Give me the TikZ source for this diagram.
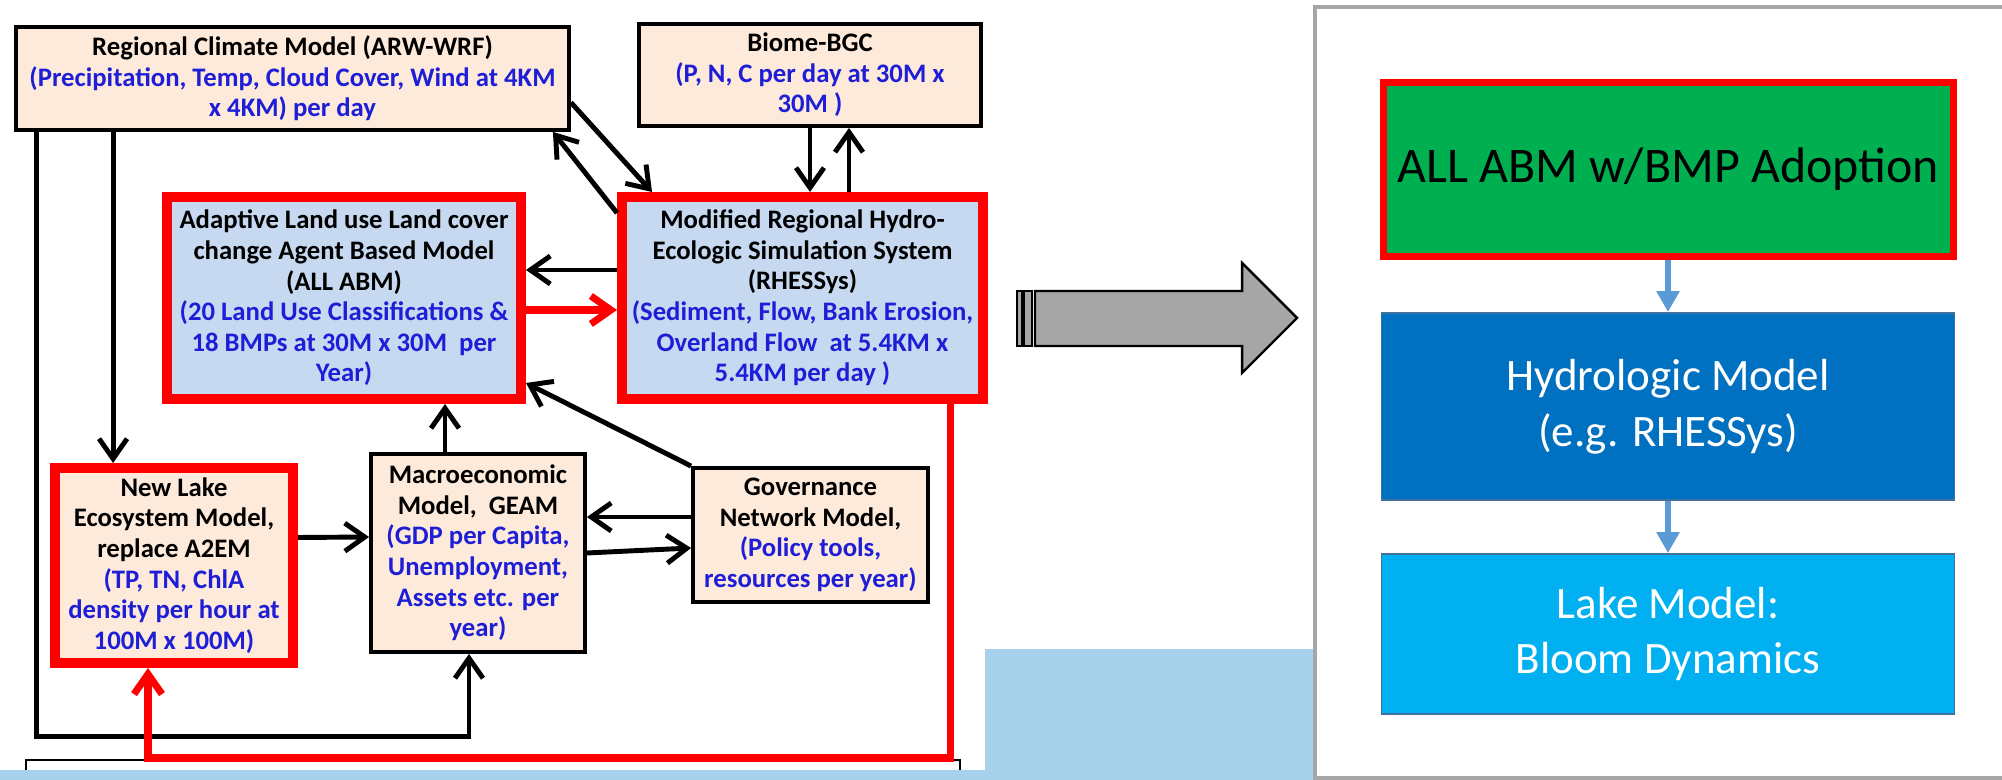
\documentclass[tikz,border=0pt]{standalone}
\usepackage{fontspec}
\setmainfont{Carlito}
\usetikzlibrary{arrows.meta,calc}

\definecolor{peach}{RGB}{253,234,218}
\definecolor{paleblue}{RGB}{198,217,241}
\definecolor{inkblue}{RGB}{30,30,215}
\definecolor{abmgreen}{RGB}{0,176,80}
\definecolor{hydroblue}{RGB}{0,112,192}
\definecolor{lakeblue}{RGB}{0,176,240}
\definecolor{edgeblue}{RGB}{65,113,156}
\definecolor{linkblue}{RGB}{91,155,213}
\definecolor{framegray}{RGB}{166,166,166}
\definecolor{skyband}{RGB}{168,210,236}

\newcommand{\outp}[1]{\textcolor{inkblue}{#1}}

\tikzset{
  model/.style={draw, line width=1.1pt, fill=peach, align=center, inner sep=1pt,
    font=\bfseries\fontsize{7.6}{8.7}\selectfont},
  coupled/.style={model, draw=red, line width=2.85pt, fill=paleblue},
  link/.style={-{Straight Barb[length=2mm,width=2.8mm]}, line width=1.4pt},
  redlink/.style={link, draw=red, line width=2pt},
  stage/.style={align=center, minimum width=57.3mm, inner sep=1pt,
    font=\fontsize{12.8}{15.9}\selectfont},
  flow/.style={-{Triangle[length=2.1mm,width=2.2mm]}, draw=linkblue, line width=1.7pt}
}

\begin{document}
\begin{tikzpicture}[x=0.1mm, y=-0.1mm]
        \useasboundingbox (0,0) rectangle (2002,780);

        \fill[skyband] (985,649) rectangle (1315,780);
        \fill[skyband] (0,770) rectangle (1315,780);
        \draw[line width=0.3pt] (26,770) -- (26,760) -- (960,760) -- (960,770);
        \draw[framegray, line width=1.2pt] (2002,7) -- (1315,7) -- (1315,778) -- (2002,778);

        \node[model, minimum width=55.3mm, minimum height=10.3mm] (ClimateModel) at (292.5,78.5)
            {Regional Climate Model (ARW-WRF)\\ \outp{(Precipitation, Temp, Cloud Cover, Wind at 4KM}\\ \outp{x 4KM) per day}};
        \node[model, minimum width=34.2mm, minimum height=10.2mm] (BiomeBGC) at (810,75)
            {Biome-BGC\\ \outp{(P, N, C per day at 30M x}\\ \outp{30M )}};
        \node[coupled, minimum width=35.4mm, minimum height=20.2mm] (LandUseABM) at (344,298)
            {Adaptive Land use Land cover\\ change Agent Based Model\\ (ALL ABM)\\ \outp{(20 Land Use Classifications \&}\\ \outp{18 BMPs at 30M x 30M~ per}\\ \outp{Year)}};
        \node[coupled, minimum width=36.1mm, minimum height=20.2mm] (RHESSys) at (802.5,298)
            {Modified Regional Hydro-\\ Ecologic Simulation System\\ (RHESSys)\\ \outp{(Sediment, Flow, Bank Erosion,}\\ \outp{Overland Flow~ at 5.4KM x}\\ \outp{5.4KM per day )}};
        \node[coupled, fill=peach, minimum width=23.8mm, minimum height=19.5mm] (LakeEcoModel) at (174,565.5)
            {New Lake\\ Ecosystem Model,\\ replace A2EM\\ \outp{(TP, TN, ChlA}\\ \outp{density per hour at}\\ \outp{100M x 100M)}};
        \node[model, minimum width=21.4mm, minimum height=19.8mm] (MacroModel) at (478,553)
            {Macroeconomic\\ Model,~ GEAM\\ \outp{(GDP per Capita,}\\ \outp{Unemployment,}\\ \outp{Assets etc. per}\\ \outp{year)}};
        \node[model, minimum width=23.5mm, minimum height=13.4mm] (GovModel) at (810.5,535)
            {Governance\\ Network Model,\\ \outp{(Policy tools,}\\ \outp{resources per year)}};

        \draw[link] ($(ClimateModel.east)+(0,24)$) to ($(RHESSys.north west)+(35,0)$);
        \draw[link] ($(RHESSys.north west)+(0,21)$) to ($(ClimateModel.south east)+(-18,0)$);
        \coordinate (BiomeUp) at ($(BiomeBGC.south)+(39,0)$);
        \draw[link] (BiomeBGC.south) to (BiomeBGC.south |- RHESSys.north);
        \draw[link] (BiomeUp |- RHESSys.north) to (BiomeUp);
        \draw[link] ($(RHESSys.west)+(0,-28)$) to ($(LandUseABM.east)+(0,-28)$);
        \draw[redlink] ($(LandUseABM.east)+(0,12)$) to ($(RHESSys.west)+(0,12)$);
        \draw[link] (GovModel.north west) to ($(LandUseABM.south east)+(0,-21)$);
        \coordinate (MacroTop) at ($(MacroModel.north)+(-33,0)$);
        \draw[link] (MacroTop) to (MacroTop |- LandUseABM.south);
        \draw[link] ($(LakeEcoModel.east)+(0,-28)$) to ($(MacroModel.west)+(0,-16)$);
        \draw[link] ($(GovModel.west)+(0,-18)$) to ($(MacroModel.east)+(0,-36)$);
        \draw[link] (MacroModel.east) to ($(GovModel.west)+(0,13)$);
        \coordinate (ClimateFeed) at ($(ClimateModel.south west)+(99,0)$);
        \draw[link] (ClimateFeed) to (ClimateFeed |- LakeEcoModel.north);
        \coordinate (ClimateLoop) at ($(ClimateModel.south west)+(22,0)$);
        \draw[link] (ClimateLoop) |- ($(MacroModel.south)+(-9,83)$) -- ($(MacroModel.south)+(-9,0)$);
        \draw[redlink] ($(RHESSys.south)+(148,0)$) |- ($(LakeEcoModel.south)+(-26,90)$) -- ($(LakeEcoModel.south)+(-26,0)$);

        \draw[fill=framegray, line width=0.7pt] (1035,291) -- (1242,291) -- (1242,263) -- (1297,318)
            -- (1242,373) -- (1242,346) -- (1035,346) -- cycle;
        \draw[fill=framegray, line width=0.7pt] (1017,291) rectangle (1022,346);
        \draw[fill=framegray, line width=0.7pt] (1024,291) rectangle (1032,346);

        \node[stage, draw=red, line width=2pt, fill=abmgreen, font=\fontsize{14.2}{16}\selectfont, minimum width=57mm, minimum height=17.4mm] (AdoptionABM) at (1668,169.5)
            {ALL ABM w/BMP Adoption};
        \node[stage, draw=edgeblue, line width=0.5pt, fill=hydroblue, text=white, minimum height=18.7mm] (HydroModel) at (1668,406.5)
            {Hydrologic Model\\ (e.g. RHESSys)};
        \node[stage, draw=edgeblue, line width=0.5pt, fill=lakeblue, text=white, minimum height=16mm] (BloomModel) at (1668,634)
            {Lake Model:\\ Bloom Dynamics};

        \draw[flow] (AdoptionABM) to (HydroModel);
        \draw[flow] (HydroModel) to (BloomModel);
    \end{tikzpicture}
\end{document}
